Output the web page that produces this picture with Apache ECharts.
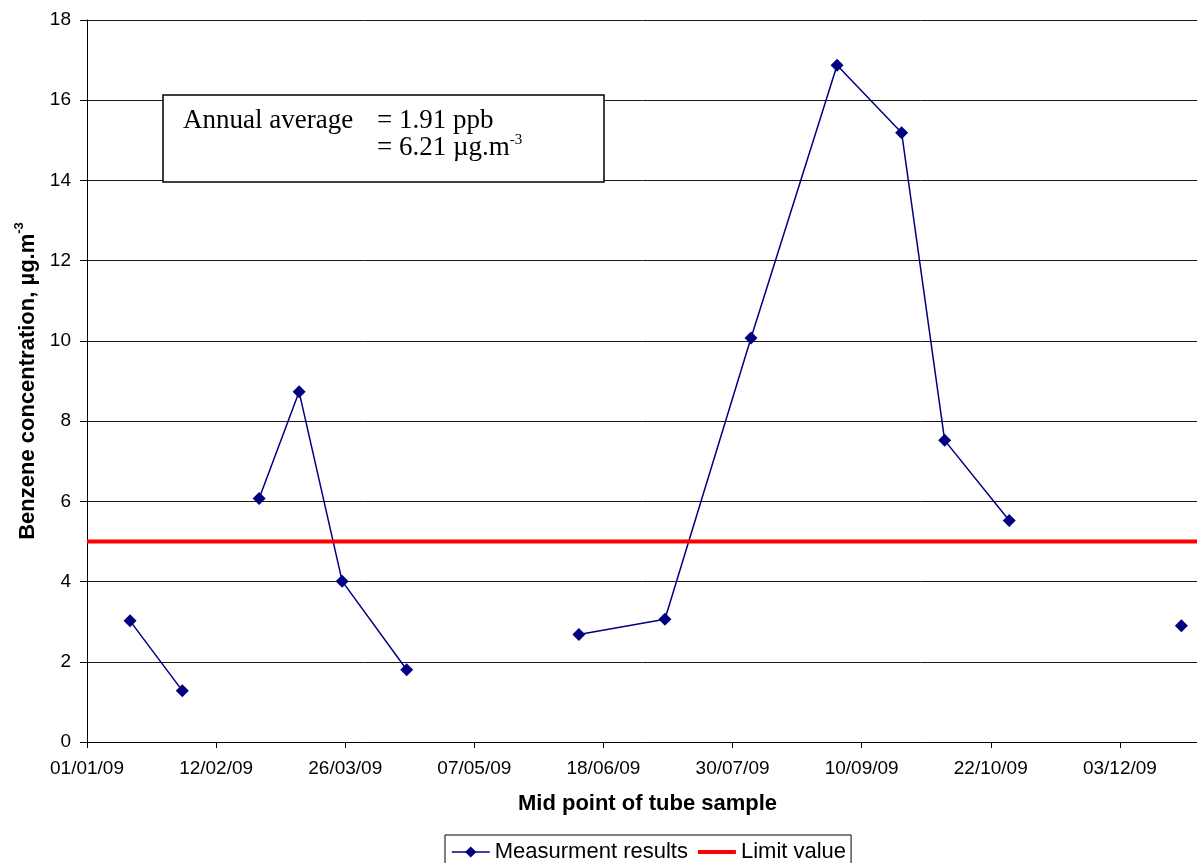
<!DOCTYPE html>
<html>
<head>
<meta charset="utf-8">
<script src="https://cdn.jsdelivr.net/npm/echarts@6/dist/echarts.min.js"></script>
<style>
html,body{margin:0;padding:0;background:#fff;}
#chart{width:1197px;height:863px;}
</style>
</head>
<body>
<div id="chart"></div>
<script>
// ---- data ----
const sampleDates = ['2009-01-15','2009-02-01','2009-02-26','2009-03-11','2009-03-25','2009-04-15',
  '2009-06-10','2009-07-08','2009-08-05','2009-09-02','2009-09-23','2009-10-07','2009-10-28','2009-12-23'];
const benzene = [3.02, 1.28, 6.07, 8.73, 4.01, 1.80, 2.68, 3.06, 10.07, 16.87, 15.19, 7.52, 5.52, 2.90];
const runId = [1, 1, 2, 2, 2, 2, 3, 3, 3, 3, 3, 3, 3, 4]; // consecutive samples joined by a line
const limitDates = ['2009-01-01', '2010-01-14'];
const limitValues = [5, 5];
const xTickLabels = ['01/01/09','12/02/09','26/03/09','07/05/09','18/06/09','30/07/09','10/09/09','22/10/09','03/12/09','14/01/10'];
const yTicks = [0, 2, 4, 6, 8, 10, 12, 14, 16, 18];
const seriesNames = ['Measurment results', 'Limit value'];
const annotationLines = ['Annual average', '= 1.91 ppb', '= 6.21 µg.m', '-3'];

// ---- helpers ----
const DAY = 86400000;
const origin = Date.UTC(2009, 0, 1);
function dayIndex(s) {
  const p = s.split('-').map(Number);
  return Math.round((Date.UTC(p[0], p[1] - 1, p[2]) - origin) / DAY);
}
const measData = [];
for (let i = 0; i < benzene.length; i++) {
  if (i > 0 && runId[i] !== runId[i - 1]) {
    measData.push([(dayIndex(sampleDates[i - 1]) + dayIndex(sampleDates[i])) / 2, '-']);
  }
  measData.push([dayIndex(sampleDates[i]), benzene[i]]);
}
const limitData = limitDates.map((d, i) => [dayIndex(d), limitValues[i]]);
const xStep = 42;

const SANS = '"Liberation Sans", Arial, sans-serif';
const SERIF = '"Liberation Serif", "Times New Roman", serif';

const chart = echarts.init(document.getElementById('chart'), null, {renderer: 'canvas'});
chart.setOption({
  animation: false,
  backgroundColor: '#fff',
  grid: {left: 87, width: 1162, top: 20, bottom: 121, containLabel: false, outerBoundsMode: 'none'},
  xAxis: {
    type: 'value',
    min: 0,
    max: xStep * (xTickLabels.length - 1),
    interval: xStep,
    axisLine: {show: true, lineStyle: {color: '#000', width: 1}},
    axisTick: {show: true, inside: false, length: 6, lineStyle: {color: '#000'}},
    axisLabel: {
      margin: 17,
      fontFamily: SANS, fontSize: 19, color: '#000',
      formatter: v => xTickLabels[Math.round(v / xStep)] || ''
    },
    splitLine: {show: false}
  },
  yAxis: {
    type: 'value',
    min: yTicks[0],
    max: yTicks[yTicks.length - 1],
    interval: yTicks[1] - yTicks[0],
    name: '{a|Benzene concentration, µg.m}{s|-3}',
    nameLocation: 'middle',
    nameGap: 44,
    nameTextStyle: {
      rich: {
        a: {fontFamily: SANS, fontSize: 22, fontWeight: 'bold', color: '#000', lineHeight: 30},
        s: {fontFamily: SANS, fontSize: 13, fontWeight: 'bold', color: '#000', lineHeight: 22, verticalAlign: 'top'}
      }
    },
    axisLine: {show: true, lineStyle: {color: '#000', width: 1}},
    axisTick: {show: true, inside: false, length: 7, lineStyle: {color: '#000'}},
    axisLabel: {margin: 16, fontFamily: SANS, fontSize: 19, color: '#000'},
    splitLine: {show: true, lineStyle: {color: '#1a1a1a', width: 1}}
  },
  legend: {
    show: true,
    left: 445,
    top: 835,
    orient: 'horizontal',
    padding: [6, 5, 6, 6],
    itemGap: 8,
    itemWidth: 38,
    itemHeight: 14,
    borderColor: '#000',
    borderWidth: 1,
    backgroundColor: '#fff',
    textStyle: {fontFamily: SANS, fontSize: 22, color: '#000'},
    data: [
      {name: seriesNames[0], lineStyle: {width: 1.5}},
      {name: seriesNames[1], itemStyle: {opacity: 0}, lineStyle: {width: 4, color: '#ff0000'}}
    ]
  },
  series: [
    {
      name: seriesNames[0],
      type: 'line',
      data: measData,
      connectNulls: false,
      symbol: 'diamond',
      symbolSize: 13,
      showSymbol: true,
      lineStyle: {color: '#000080', width: 1.5},
      itemStyle: {color: '#000080'},
      z: 3
    },
    {
      name: seriesNames[1],
      type: 'line',
      data: limitData,
      symbol: 'none',
      lineStyle: {color: '#ff0000', width: 4},
      itemStyle: {color: '#ff0000'},
      z: 4
    }
  ],
  graphic: [
    {
      type: 'text', z: 100,
      style: {
        text: 'Mid point of tube sample', x: 647.5, y: 804,
        align: 'center', verticalAlign: 'middle',
        font: 'bold 22px ' + SANS, fill: '#000'
      }
    },
    {
      type: 'rect', z: 100,
      shape: {x: 163, y: 95, width: 441, height: 87},
      style: {fill: '#fff', stroke: '#000', lineWidth: 1.5}
    },
    {
      type: 'text', z: 101,
      style: {
        text: annotationLines[0], x: 183, y: 121,
        align: 'left', verticalAlign: 'middle',
        font: '27px ' + SERIF, fill: '#000'
      }
    },
    {
      type: 'text', z: 101,
      style: {
        text: annotationLines[1], x: 377, y: 121,
        align: 'left', verticalAlign: 'middle',
        font: '27px ' + SERIF, fill: '#000'
      }
    },
    {
      type: 'text', z: 101,
      style: {
        text: '{a|' + annotationLines[2] + '}{s|' + annotationLines[3] + '}', x: 377, y: 148,
        align: 'left', verticalAlign: 'middle',
        rich: {
          a: {fontFamily: SERIF, fontSize: 27, color: '#000', lineHeight: 30},
          s: {fontFamily: SERIF, fontSize: 15, color: '#000', lineHeight: 24, verticalAlign: 'top'}
        }
      }
    }
  ]
});
</script>
</body>
</html>
